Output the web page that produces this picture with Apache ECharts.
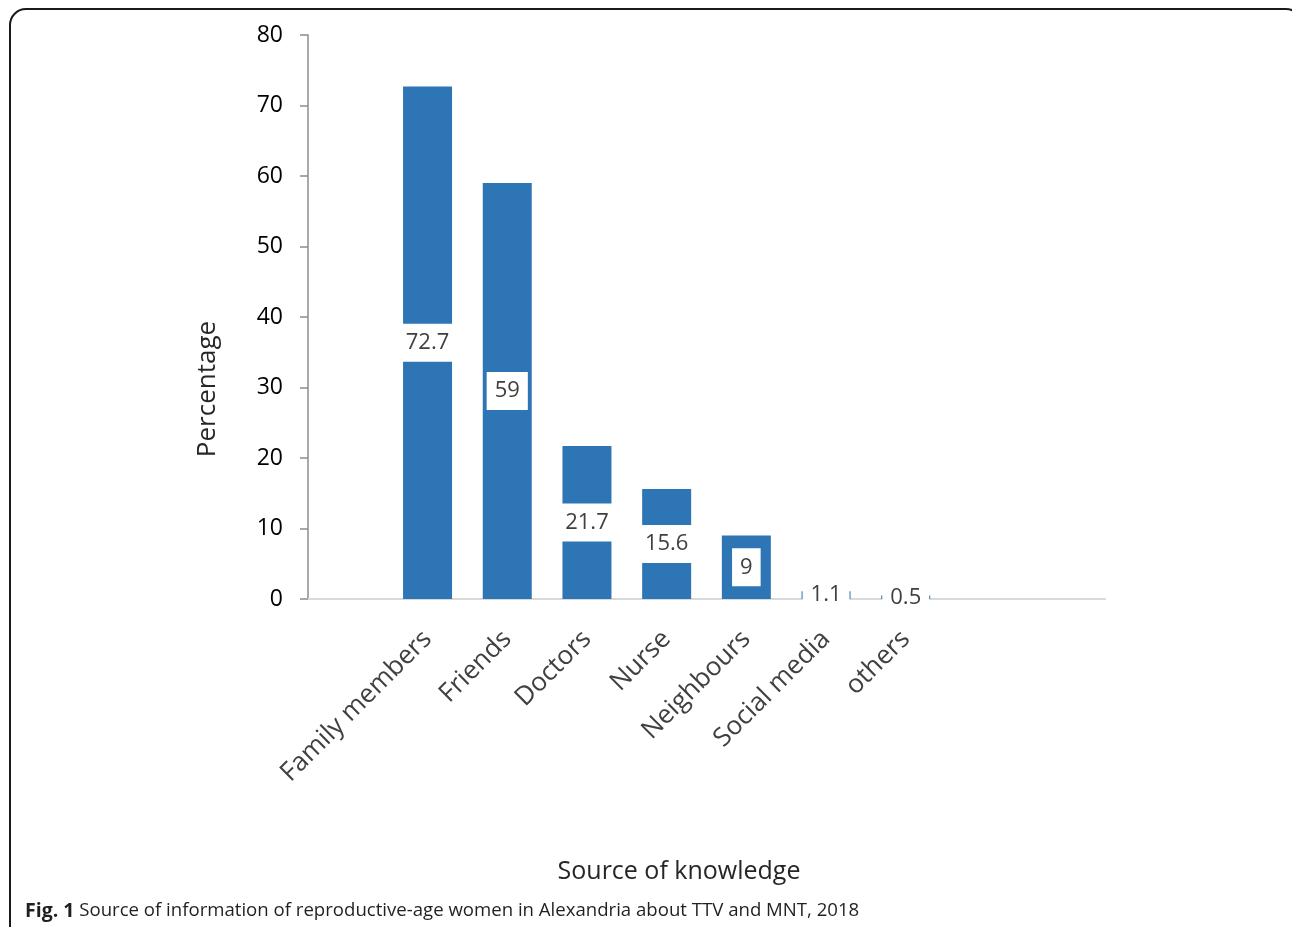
<!DOCTYPE html>
<html>
<head>
<meta charset="utf-8">
<script src="https://cdn.jsdelivr.net/npm/echarts@6/dist/echarts.min.js"></script>
<style>
  html, body { margin: 0; padding: 0; background: #fff; }
  #chart { width: 1292px; height: 927px; }
</style>
</head>
<body>
<div id="chart"></div>
<script>
// Source categories (empty slots keep the plot's spacing on both sides)
const categories = ['', 'Family members', 'Friends', 'Doctors', 'Nurse', 'Neighbours', 'Social media', 'others', '', ''];
// Percentage of women citing each source
const percentages = [null, 72.7, 59, 21.7, 15.6, 9, 1.1, 0.5, null, null];
// Y-axis range
const yMin = 0, yMax = 80, yStep = 10;

const FONT = '"Open Sans", "Noto Sans", sans-serif';
const chart = echarts.init(document.getElementById('chart'), null, { renderer: 'canvas' });

chart.setOption({
  backgroundColor: '#ffffff',
  animation: false,
  grid: { left: 308, right: 187, top: 35, bottom: 328, containLabel: false },
  xAxis: {
    type: 'category',
    data: categories,
    axisLine: { lineStyle: { color: '#d9d9d9', width: 2 } },
    axisTick: { show: false },
    axisLabel: {
      interval: 0,
      rotate: 45,
      margin: 36,
      fontSize: 26,
      color: '#404040',
      fontFamily: FONT
    }
  },
  yAxis: {
    type: 'value',
    min: yMin,
    max: yMax,
    interval: yStep,
    splitLine: { show: false },
    axisLine: { show: true, lineStyle: { color: '#8c8c8c', width: 1.5 } },
    axisTick: { show: true, inside: false, length: 8, lineStyle: { color: '#8c8c8c', width: 1.5 } },
    axisLabel: { fontSize: 23, color: '#000000', margin: 25, fontFamily: FONT }
  },
  series: [{
    type: 'bar',
    data: percentages,
    barWidth: 49,
    itemStyle: { color: '#2e75b6' },
    label: {
      show: true,
      position: 'inside',
      fontSize: 22,
      color: '#404040',
      fontFamily: FONT,
      backgroundColor: '#ffffff',
      padding: [8, 8, 8, 8]
    }
  }],
  graphic: [
    {
      type: 'rect',
      shape: { x: 10, y: 9, width: 1292, height: 1000, r: 16 },
      style: { fill: 'none', stroke: '#1a1a1a', lineWidth: 2 },
      silent: true
    },
    {
      type: 'text',
      x: 208,
      y: 389,
      rotation: Math.PI / 2,
      style: {
        text: 'Percentage',
        font: '26px ' + FONT,
        fill: '#262626',
        textAlign: 'center',
        textVerticalAlign: 'middle'
      }
    },
    {
      type: 'text',
      x: 679,
      y: 872,
      style: {
        text: 'Source of knowledge',
        font: '25px ' + FONT,
        fill: '#262626',
        textAlign: 'center',
        textVerticalAlign: 'middle'
      }
    },
    {
      type: 'text',
      x: 25,
      y: 911,
      style: {
        text: '{b|Fig. 1} Source of information of reproductive-age women in Alexandria about TTV and MNT, 2018',
        textVerticalAlign: 'middle',
        rich: {
          b: { fontWeight: 'bold', fontSize: 19.5, fontFamily: FONT, fill: '#231f20' }
        },
        font: '18.6px ' + FONT,
        fill: '#231f20'
      }
    }
  ]
});
</script>
</body>
</html>
